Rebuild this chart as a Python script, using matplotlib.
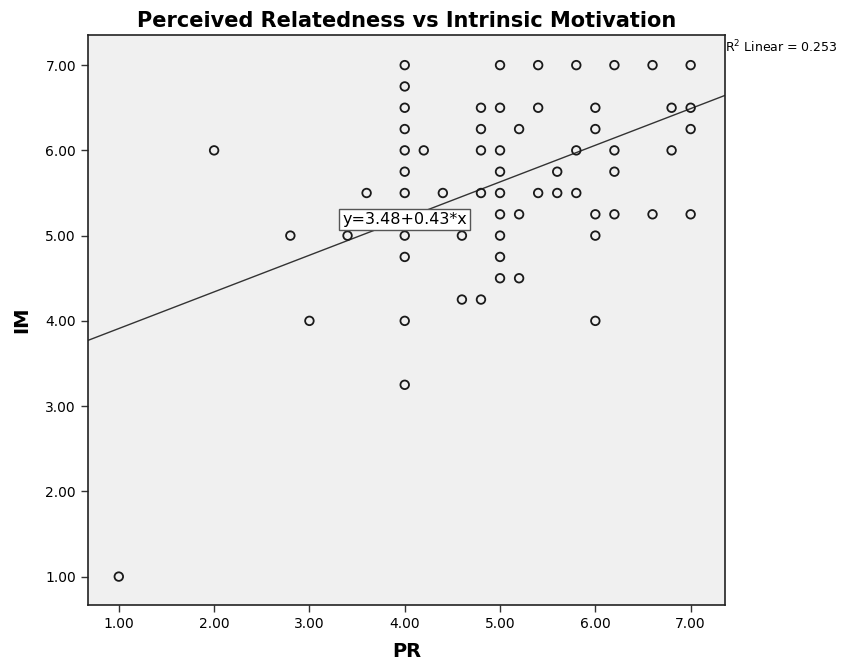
import matplotlib
matplotlib.use("Agg")
import matplotlib.pyplot as plt
import numpy as np

# PR / IM pairs
pr = [1.0, 2.0, 2.8, 3.0, 3.4, 3.6,
      4.0, 4.0, 4.0, 4.0, 4.0, 4.0, 4.0, 4.0, 4.0, 4.0, 4.0,
      4.2, 4.4, 4.6, 4.6,
      4.8, 4.8, 4.8, 4.8, 4.8,
      5.0, 5.0, 5.0, 5.0, 5.0, 5.0, 5.0, 5.0, 5.0,
      5.2, 5.2, 5.2,
      5.4, 5.4, 5.4,
      5.6, 5.6,
      5.8, 5.8, 5.8,
      6.0, 6.0, 6.0, 6.0, 6.0,
      6.2, 6.2, 6.2, 6.2,
      6.6, 6.6,
      6.8, 6.8,
      7.0, 7.0, 7.0, 7.0]
im = [1.0, 6.0, 5.0, 4.0, 5.0, 5.5,
      7.0, 6.75, 6.5, 6.25, 6.0, 5.75, 5.5, 5.0, 4.75, 4.0, 3.25,
      6.0, 5.5, 5.0, 4.25,
      6.5, 6.25, 6.0, 5.5, 4.25,
      7.0, 6.5, 6.0, 5.75, 5.5, 5.25, 5.0, 4.75, 4.5,
      6.25, 5.25, 4.5,
      7.0, 6.5, 5.5,
      5.75, 5.5,
      7.0, 6.0, 5.5,
      6.5, 6.25, 5.25, 5.0, 4.0,
      7.0, 6.0, 5.75, 5.25,
      7.0, 5.25,
      6.5, 6.0,
      7.0, 6.5, 6.25, 5.25]

intercept = 3.48
slope = 0.43
r2 = 0.253
ticks = [1, 2, 3, 4, 5, 6, 7]

plt.rcParams['font.family'] = ['DejaVu Sans']

fig = plt.figure(figsize=(8.61, 6.66), dpi=100)
ax = fig.add_axes([0.102, 0.092, 0.740, 0.855])
ax.set_facecolor('#f0f0f0')

xlim = (0.675, 7.36)
ylim = (0.67, 7.35)
ax.set_xlim(*xlim)
ax.set_ylim(*ylim)

ax.scatter(pr, im, s=38, facecolors='none', edgecolors='#1a1a1a', linewidths=1.3, zorder=3)

xs = np.array(xlim)
ax.plot(xs, intercept + slope * xs, color='#333333', lw=1.0, zorder=2)

ax.text(4.0, 5.19, 'y=3.48+0.43*x', ha='center', va='center', fontsize=11.5,
        zorder=4,
        bbox=dict(boxstyle='square,pad=0.2', fc='white', ec='#555555', lw=1))

fig.text(0.842, 0.93, 'R$^2$ Linear = 0.253', ha='left', va='center', fontsize=9)

ax.set_xticks(ticks)
ax.set_yticks(ticks)
ax.set_xticklabels(['%.2f' % t for t in ticks], fontsize=10)
ax.set_yticklabels(['%.2f' % t for t in ticks], fontsize=10)
ax.tick_params(direction='out', length=5, width=1, color='#333333')
for s in ax.spines.values():
    s.set_color('#222222')
    s.set_linewidth(1.2)

ax.set_title('Perceived Relatedness vs Intrinsic Motivation', fontsize=15, fontweight='bold', pad=6)
ax.set_xlabel('PR', fontsize=14, fontweight='bold', labelpad=8)
ax.set_ylabel('IM', fontsize=14, fontweight='bold', labelpad=10)

fig.savefig('out.png', dpi=100)
